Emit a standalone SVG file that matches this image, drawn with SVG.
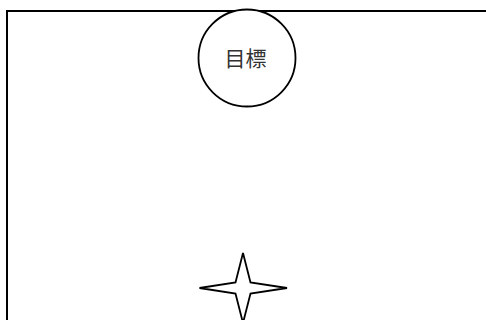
<svg xmlns="http://www.w3.org/2000/svg" width="486" height="320" viewBox="0 0 486 320">
<style>
.frame{fill:none;stroke:#000;stroke-width:2}
.shape{fill:#fff;stroke:#000;stroke-width:1.8}
.lbl{font-family:"Liberation Sans","Noto Sans CJK JP",sans-serif;font-size:21px;fill:#333;text-anchor:middle;dominant-baseline:central}
</style>
<rect x="0" y="0" width="486" height="320" fill="#fff"/>
<rect class="frame" x="7" y="11" width="500" height="330"/>
<g id="goal">
<circle class="shape" cx="247" cy="58" r="48.5"/>
<text class="lbl" x="245.5" y="58.5">目標</text>
</g>
<g id="star">
<polygon class="shape" points="243,253 250.5,282.5 287,288 250.5,293.5 243,323 235.5,293.5 199.5,288 235.5,282.5"/>
</g>
<g id="connectors"></g>
</svg>
